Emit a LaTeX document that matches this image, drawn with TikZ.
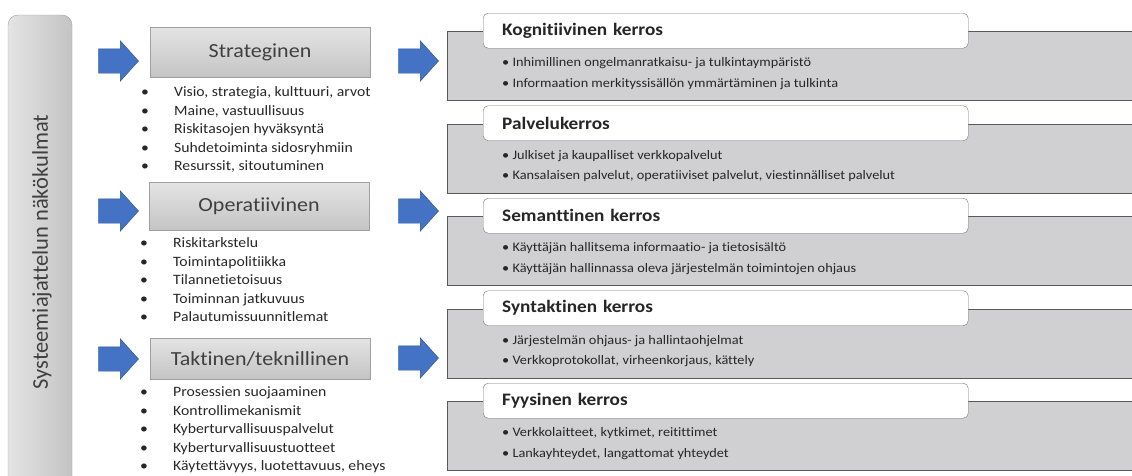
\documentclass[tikz,border=0pt]{standalone}
\usepackage{fontspec}
\setmainfont{Carlito}[Ligatures=NoCommon, FakeStretch=1.1]
\newfontfamily\plainfont{Carlito}[Ligatures=NoCommon]
\usetikzlibrary{shapes.arrows}

\definecolor{arrowblue}{RGB}{68,114,196}
\definecolor{arrowedge}{RGB}{47,82,143}
\definecolor{layerfill}{RGB}{208,208,210}
\definecolor{layeredge}{RGB}{89,89,89}
\definecolor{headedge}{RGB}{118,118,118}
\definecolor{stageedge}{RGB}{160,160,160}
\definecolor{stagetop}{RGB}{228,228,228}
\definecolor{stagebot}{RGB}{196,196,196}
\definecolor{textgrey}{RGB}{38,38,38}

\newcommand{\bul}{\makebox[33pt][l]{\textbullet}}

\tikzset{
  bluearrow/.style={single arrow, draw=arrowedge, fill=arrowblue, minimum height=40,
    single arrow head extend=8, single arrow tip angle=96, inner xsep=0, inner ysep=12},
  stagebox/.style={draw=stageedge, top color=stagetop, bottom color=stagebot, minimum width=220,
    text=black!75, font=\fontsize{20}{24}\selectfont},
  stagelist/.style={anchor=west, align=left, inner sep=0, text=textgrey, font=\fontsize{14.3}{18.5}\selectfont},
  layerbg/.style={draw=layeredge, fill=layerfill, anchor=north west, minimum width=720, minimum height=69, inner sep=0},
  layerhead/.style={draw=headedge, fill=white, rounded corners=5, anchor=north west, minimum height=35,
    text width=447, inner xsep=19, inner ysep=0, align=left, text=textgrey, font=\bfseries\fontsize{17.5}{20}\selectfont},
  layertext/.style={anchor=west, align=left, inner sep=0, text=textgrey, font=\fontsize{13}{20.5}\selectfont}
}

\begin{document}
\begin{tikzpicture}[x=1pt, y=-1pt]
\useasboundingbox (0,0) rectangle (1132,475);
\clip (0,0) rectangle (1132,475);

\draw[draw=stageedge, left color=stagetop, right color=stagebot, rounded corners=10] (8,15) rectangle (72,510);
\node[rotate=90, text=black!75, font=\plainfont\fontsize{22.5}{25}\selectfont] (view) at (42,252) {Systeemiajattelun näkökulmat};

\node[bluearrow] (sarrow) at (113,61) {};
\node[bluearrow] (oarrow) at (113,211) {};
\node[bluearrow] (tarrow) at (113,359) {};

\node[stagebox, minimum height=50] (strat) at (260,52) {Strateginen};
\node[stagebox, minimum height=48] (oper) at (259,206) {Operatiivinen};
\node[stagebox, minimum height=41] (takt) at (260,358.5) {Taktinen/teknillinen};

\node[stagelist] (stratlist) at (141,129.5) {\bul Visio, strategia, kulttuuri, arvot\\ \bul Maine, vastuullisuus\\
  \bul Riskitasojen hyväksyntä\\ \bul Suhdetoiminta sidosryhmiin\\ \bul Resurssit, sitoutuminen};
\node[stagelist] (operlist) at (140,280) {\bul Riskitarkstelu\\ \bul Toimintapolitiikka\\
  \bul Tilannetietoisuus\\ \bul Toiminnan jatkuvuus\\ \bul Palautumissuunnitlemat};
\node[stagelist] (taktlist) at (140,430) {\bul Prosessien suojaaminen\\ \bul Kontrollimekanismit\\
  \bul Kyberturvallisuuspalvelut\\ \bul Kyberturvallisuustuotteet\\ \bul Käytettävyys, luotettavuus, eheys};

\node[bluearrow] (karrow) at (413,61) {};
\node[bluearrow] (sarrow2) at (413,211) {};
\node[bluearrow] (yarrow) at (413,358) {};

\node[layerbg] (kogbg) at (447,31) {};
\node[layerhead] (kog) at (483,13) {Kognitiivinen kerros};
\node[layertext] (kogtext) at (502,73.5) {\textbullet\ Inhimillinen ongelmanratkaisu- ja tulkintaympäristö\\
  \textbullet\ Informaation merkityssisällön ymmärtäminen ja tulkinta};

\node[layerbg] (palbg) at (447,123.5) {};
\node[layerhead] (pal) at (483,105.5) {Palvelukerros};
\node[layertext] (paltext) at (502,166) {\textbullet\ Julkiset ja kaupalliset verkkopalvelut\\
  \textbullet\ Kansalaisen palvelut, operatiiviset palvelut, viestinnälliset palvelut};

\node[layerbg] (sembg) at (447,216) {};
\node[layerhead] (sem) at (483,198) {Semanttinen kerros};
\node[layertext] (semtext) at (502,258.5) {\textbullet\ Käyttäjän hallitsema informaatio- ja tietosisältö\\
  \textbullet\ Käyttäjän hallinnassa oleva järjestelmän toimintojen ohjaus};

\node[layerbg] (synbg) at (447,308.5) {};
\node[layerhead] (syn) at (483,290.5) {Syntaktinen kerros};
\node[layertext] (syntext) at (502,351) {\textbullet\ Järjestelmän ohjaus- ja hallintaohjelmat\\
  \textbullet\ Verkkoprotokollat, virheenkorjaus, kättely};

\node[layerbg] (fyybg) at (447,401) {};
\node[layerhead] (fyy) at (483,383) {Fyysinen kerros};
\node[layertext] (fyytext) at (502,443.5) {\textbullet\ Verkkolaitteet, kytkimet, reitittimet\\
  \textbullet\ Lankayhteydet, langattomat yhteydet};
\end{tikzpicture}
\end{document}
